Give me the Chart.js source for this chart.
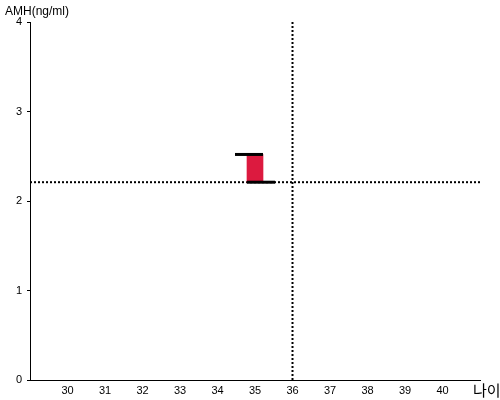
<!DOCTYPE html>
<html>
<head>
<meta charset="utf-8">
<script src="https://cdn.jsdelivr.net/npm/chart.js@4"></script>
<style>
  body { margin: 0; background: #fff; }
  #wrap { width: 500px; height: 400px; }
</style>
</head>
<body>
<div id="wrap"><canvas id="graficoAmh"></canvas></div>
<script>
// dados
const idades = [35];
const amhBaixo = [2.21];
const amhAlto = [2.52];
const idadeRef = 36;
const amhRef = 2.21;
const xMin = 29, xMax = 41;
const yMin = 0, yMax = 4;
const xTicks = [30, 31, 32, 33, 34, 35, 36, 37, 38, 39, 40];
const yTicks = [0, 1, 2, 3, 4];

const meiaBarra = 0.213;
const traco = 0.32;

const barras = idades.map((x, i) => ({ x: x, y: [amhBaixo[i], amhAlto[i]] }));

// traços: alto pra esquerda, baixo pra direita
const tracoAlto = [];
const tracoBaixo = [];
idades.forEach((x, i) => {
  tracoAlto.push({ x: x - meiaBarra - traco, y: amhAlto[i] }, { x: x + meiaBarra, y: amhAlto[i] });
  tracoBaixo.push({ x: x - meiaBarra, y: amhBaixo[i] }, { x: x + meiaBarra + traco, y: amhBaixo[i] });
});

const titulos = {
  id: 'titulos',
  afterDraw(chart) {
    const ctx = chart.ctx;
    ctx.save();
    ctx.fillStyle = '#000';
    ctx.textBaseline = 'alphabetic';
    ctx.textAlign = 'left';
    ctx.font = '12px "Liberation Sans", Arial, sans-serif';
    ctx.fillText('AMH(ng/ml)', 5, 15);
    ctx.font = '15px "Noto Sans CJK KR", sans-serif';
    ctx.fillText('나이', 473, 396);
    ctx.restore();
  }
};

const linhaPonto = { type: 'line', borderColor: '#000', borderWidth: 2, borderDash: [2, 2], pointRadius: 0, fill: false, order: 3 };

new Chart(document.getElementById('graficoAmh'), {
  type: 'bar',
  data: {
    datasets: [
      { type: 'bar', data: barras, backgroundColor: '#dc1a3f', barThickness: 16, order: 2 },
      { type: 'line', data: tracoAlto, borderColor: '#000', borderWidth: 3, pointRadius: 0, order: 1 },
      { type: 'line', data: tracoBaixo, borderColor: '#000', borderWidth: 3, pointRadius: 0, order: 1 },
      Object.assign({ data: [{ x: xMin, y: amhRef }, { x: xMax, y: amhRef }] }, linhaPonto),
      Object.assign({ data: [{ x: idadeRef, y: yMin }, { x: idadeRef, y: yMax }] }, linhaPonto)
    ]
  },
  options: {
    responsive: true,
    maintainAspectRatio: false,
    animation: false,
    layout: { padding: { top: 22, right: 20, left: 0, bottom: 0 } },
    plugins: { legend: { display: false }, tooltip: { enabled: false } },
    scales: {
      x: {
        type: 'linear',
        min: xMin,
        max: xMax,
        offset: false,
        afterBuildTicks: (s) => { s.ticks = xTicks.map(v => ({ value: v })); },
        afterFit: (s) => { s.height = 20; },
        grid: { display: false, drawTicks: false },
        border: { display: true, color: '#000', width: 1 },
        ticks: { color: '#000', padding: 4, maxRotation: 0, autoSkip: false, font: { family: '"Liberation Sans", Arial', size: 11 } }
      },
      y: {
        min: yMin,
        max: yMax,
        afterBuildTicks: (s) => { s.ticks = yTicks.map(v => ({ value: v })); },
        afterFit: (s) => { s.width = 30; },
        grid: { drawOnChartArea: false, drawTicks: true, tickLength: 3, color: '#000' },
        border: { display: true, color: '#000', width: 1 },
        ticks: { color: '#000', padding: 5, font: { family: '"Liberation Sans", Arial', size: 11 } }
      }
    }
  },
  plugins: [titulos]
});
</script>
</body>
</html>
